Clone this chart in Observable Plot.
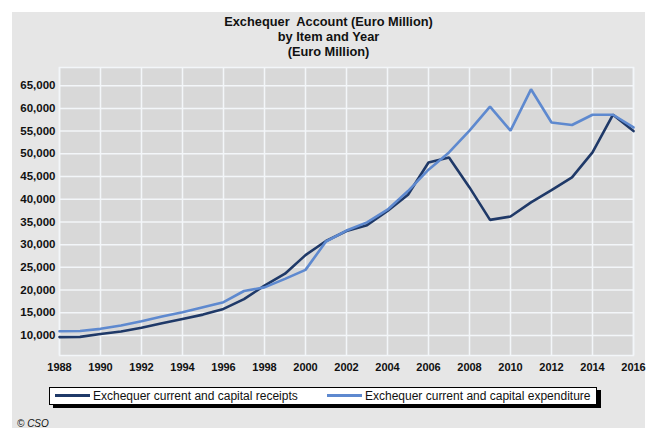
<!DOCTYPE html>
<html>
<head>
<meta charset="utf-8">
<script src="https://cdn.jsdelivr.net/npm/d3@7"></script>
<script src="https://cdn.jsdelivr.net/npm/@observablehq/plot@0.6"></script>
<style>
  html, body { margin: 0; padding: 0; background: #ffffff; }
  #wrap { position: relative; width: 650px; height: 439px; overflow: hidden; font-family: "Liberation Sans", Arial, sans-serif; }
  #panel { position: absolute; left: 12px; top: 12px; width: 633px; height: 416px; background: #e6e6e6; }
  #title { position: absolute; left: 12px; top: 14px; width: 633px; text-align: center; font-weight: bold; font-size: 12.8px; line-height: 15px; color: #111; white-space: pre; }
  #chart { position: absolute; left: 0; top: 0; }
  #legend { position: absolute; left: 49px; top: 387px; width: 546px; height: 16px; background: #fff; border: 1px solid #000; box-shadow: 4px 3px 0 #000; font-size: 12px; color: #111; }
  .item { position: absolute; top: 0; height: 16px; line-height: 16px; white-space: nowrap; }
  .swatch { display: inline-block; width: 35px; height: 3px; vertical-align: middle; margin-right: 3px; position: relative; top: -1px; }
  #caption { position: absolute; left: 17px; top: 418px; font-size: 10px; font-style: italic; color: #111; }
</style>
</head>
<body>
<div id="wrap">
  <div id="panel"></div>
  <div id="title"></div>
  <div id="chart"></div>
  <div id="legend"></div>
  <div id="caption">© CSO</div>
</div>
<script>
// ---- data ----
const years = [1988, 1989, 1990, 1991, 1992, 1993, 1994, 1995, 1996, 1997, 1998, 1999, 2000, 2001, 2002,
               2003, 2004, 2005, 2006, 2007, 2008, 2009, 2010, 2011, 2012, 2013, 2014, 2015, 2016];
const receipts = [9650, 9700, 10350, 10900, 11700, 12700, 13650, 14600, 15850, 18000, 21000, 23600, 27700, 30800, 33000,
                  34300, 37400, 41000, 48100, 49200, 42600, 35450, 36200, 39300, 42000, 44800, 50300, 58600, 55000];
const expenditure = [10950, 11000, 11470, 12200, 13150, 14180, 15130, 16230, 17330, 19800, 20600, 22470, 24450, 30700, 33100,
                     34900, 37700, 41800, 46500, 50300, 55100, 60400, 55100, 64200, 56900, 56350, 58600, 58600, 55800];
const seriesNames = ["Exchequer current and capital receipts", "Exchequer current and capital expenditure"];
const seriesColors = ["#1f3968", "#5e89cf"];
const titleLines = ["Exchequer  Account (Euro Million)", "by Item and Year", "(Euro Million)"];
const xTicks = [1988, 1990, 1992, 1994, 1996, 1998, 2000, 2002, 2004, 2006, 2008, 2010, 2012, 2014, 2016];
const yTicks = [10000, 15000, 20000, 25000, 30000, 35000, 40000, 45000, 50000, 55000, 60000, 65000];

// ---- table ----
const rows = [];
years.forEach((y, i) => {
  rows.push({year: y, value: receipts[i], series: seriesNames[0]});
  rows.push({year: y, value: expenditure[i], series: seriesNames[1]});
});

document.getElementById("title").textContent = titleLines.join("\n");

const gridColor = "#f3f6f9";
const chart = Plot.plot({
  width: 650,
  height: 439,
  marginLeft: 59,
  marginRight: 17,
  marginTop: 67,
  marginBottom: 84,
  style: {background: "transparent", fontFamily: "Liberation Sans, Arial, sans-serif", color: "#111"},
  x: {domain: [1988, 2016], ticks: xTicks, tickFormat: d => String(d), tickSize: 0, tickPadding: 8, label: null},
  y: {domain: [5600, 69000], ticks: yTicks, tickFormat: d3.format(","), tickSize: 0, tickPadding: 4, label: null},
  color: {domain: seriesNames, range: seriesColors},
  marks: [
    Plot.frame({fill: "#d8d8d8", stroke: gridColor, strokeWidth: 1.5}),
    Plot.ruleX(xTicks, {stroke: gridColor, strokeWidth: 1.5}),
    Plot.ruleY(yTicks, {stroke: gridColor, strokeWidth: 1.5}),
    Plot.line(rows, {x: "year", y: "value", z: "series", stroke: "series", strokeWidth: 2.6, strokeLinejoin: "miter"}),
    Plot.axisX({ticks: xTicks, tickFormat: d => String(d), tickSize: 0, tickPadding: 8, fontSize: 11, fontWeight: "bold", label: null}),
    Plot.axisY({ticks: yTicks, tickFormat: d3.format(","), tickSize: 0, tickPadding: 4, fontSize: 11.5, fontWeight: "bold", label: null})
  ]
});
document.getElementById("chart").appendChild(chart);

// ---- legend ----
const legend = document.getElementById("legend");
const offsets = [5, 277];
seriesNames.forEach((name, i) => {
  const item = document.createElement("div");
  item.className = "item";
  item.style.left = offsets[i] + "px";
  const sw = document.createElement("span");
  sw.className = "swatch";
  sw.style.background = seriesColors[i];
  item.appendChild(sw);
  item.appendChild(document.createTextNode(name));
  legend.appendChild(item);
});
</script>
</body>
</html>
